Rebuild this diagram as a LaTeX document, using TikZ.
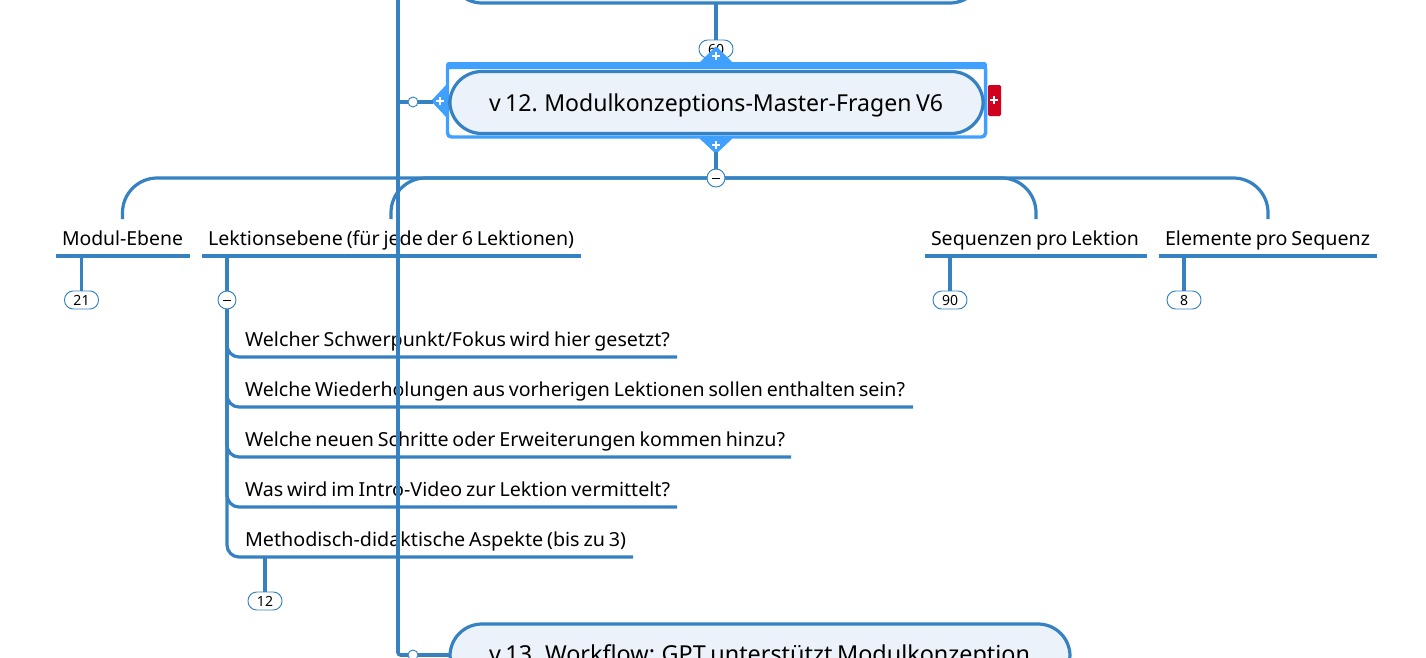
\documentclass[tikz,border=0pt]{standalone}
\usepackage{fontspec}
\usepackage{graphicx}
\setmainfont{Noto Sans}[WordSpace=0.75]
\usetikzlibrary{shapes.geometric}
\definecolor{linec}{HTML}{3581C1}
\definecolor{fillc}{HTML}{EBF2FA}
\definecolor{selc}{HTML}{3FA0FF}
\definecolor{redc}{HTML}{D0021E}
\newcommand{\fitw}[2]{\resizebox{#1}{\height}{#2}}
\tikzset{
  x=0.75pt,y=-0.75pt,
  every node/.style={inner sep=0pt,outer sep=0pt},
  conn/.style={draw=linec,line width=2.4pt},
  thick line/.style={draw=linec,line width=3pt},
  trunk/.style={draw=linec,line width=2.7pt},
  topicbox/.style={draw=linec,line width=2.4pt,fill=fillc,rounded corners=24pt,minimum height=46.5pt},
  topictext/.style={anchor=base west,font=\fontsize{17.5}{20}\selectfont,text=black},
  sub/.style={anchor=base west,font=\fontsize{14.5}{17}\selectfont,text=black},
  badge/.style={draw=linec,line width=0.7pt,fill=white,rounded corners=6.6pt,minimum width=25.5pt,minimum height=13.5pt,font=\fontsize{10.5}{12}\selectfont},
  toggle/.style={circle,draw=linec,line width=0.7pt,fill=white,minimum size=13.5pt},
  dot/.style={circle,draw=linec,line width=0.7pt,fill=white,minimum size=7.5pt},
  plusmark/.style={draw=white,line width=2.1pt},
}
\begin{document}
\begin{tikzpicture}
\useasboundingbox (0,0) rectangle (1426,657);
\clip (0,0) rectangle (1426,657);
% topics
\node[topicbox,minimum width=399pt] (prev) at (716,-28) {};
\draw[draw=selc,line width=2.6pt,rounded corners=3pt] (447.5,65) rectangle (985.5,137);
\fill[selc,rounded corners=2pt] (446,62) rectangle (987,69);
\node[topicbox,minimum width=400pt] (cur) at (716.5,102.5) {};
\node[topicbox,minimum width=465pt] (next) at (760,655) {};
\path (489,111.5) node[topictext] (curtext) {\fitw{340.5pt}{v 12. Modulkonzeptions-Master-Fragen V6}};
\path (489,662.5) node[topictext] (nexttext) {\fitw{405.75pt}{v 13. Workflow: GPT unterstützt Modulkonzeption}};
% subtopic labels
\path (62,245) node[sub] (modul) {\fitw{90.75pt}{Modul-Ebene}};
\path (208,245) node[sub] (lekt) {\fitw{274.5pt}{Lektionsebene (für jede der 6 Lektionen)}};
\path (931,245) node[sub] (seq) {\fitw{156pt}{Sequenzen pro Lektion}};
\path (1165,245) node[sub] (elem) {\fitw{153.75pt}{Elemente pro Sequenz}};
\path (245,346) node[sub] (q1) {\fitw{318.75pt}{Welcher Schwerpunkt/Fokus wird hier gesetzt?}};
\path (245,396) node[sub] (q2) {\fitw{495pt}{Welche Wiederholungen aus vorherigen Lektionen sollen enthalten sein?}};
\path (245,446) node[sub] (q3) {\fitw{405pt}{Welche neuen Schritte oder Erweiterungen kommen hinzu?}};
\path (245,496) node[sub] (q4) {\fitw{318.75pt}{Was wird im Intro-Video zur Lektion vermittelt?}};
\path (245,546) node[sub] (q5) {\fitw{285.75pt}{Methodisch-didaktische Aspekte (bis zu 3)}};
% badges and toggles
\node[badge] (b60) at (716,49) {60};
\node[badge] (b21) at (81.5,300) {21};
\node[badge] (b90) at (950,300) {90};
\node[badge] (b8) at (1184,300) {8};
\node[badge] (b12) at (265,601) {12};
\node[toggle] (tm) at (716,178) {\rule{6pt}{0.75pt}};
\node[toggle] (tl) at (227,300) {\rule{6pt}{0.75pt}};
\node[dot] (dcur) at (413,102) {};
\node[dot] (dnext) at (413,655) {};
% selection handles
\fill[selc,rounded corners=1pt] (699,63) -- (716,46) -- (733,63) -- cycle;
\fill[selc,rounded corners=1pt] (699,138) -- (716,154) -- (733,138) -- cycle;
\fill[selc,rounded corners=1pt] (447,84) -- (431,101) -- (447,118) -- cycle;
\fill[redc,rounded corners=1pt] (988,85) rectangle (1001,116);
% anchors
\coordinate (modL) at (56,256); \coordinate (modR) at (190,256);
\coordinate (lekL) at (202,256); \coordinate (lekR) at (581,256);
\coordinate (seqL) at (925,256); \coordinate (seqR) at (1147,256);
\coordinate (eleL) at (1159,256); \coordinate (eleR) at (1377,256);
\coordinate (s21) at (81.5,256); \coordinate (stl) at (227,256);
\coordinate (s90) at (950,256); \coordinate (s8) at (1184,256);
\coordinate (k1) at (677,357); \coordinate (k2) at (913,407);
\coordinate (k3) at (791,457); \coordinate (k4) at (677,507);
\coordinate (k5) at (633,557); \coordinate (s12) at (265,557);
\coordinate (bl1) at (122.5,219); \coordinate (bl2) at (391,219);
\coordinate (bl3) at (1036,219); \coordinate (bl4) at (1268,219);
\coordinate (trTop) at (398,-5); \coordinate (trCur) at (398,102); \coordinate (trNext) at (398,655);
\coordinate (hCur) at (433,102); \coordinate (hBot) at (716,152);
% connectors
\draw[conn] (prev.south) -- (b60.north);
\draw[conn] (hBot) -- (tm.north);
\draw[conn,rounded corners=26pt] (tm.west) -| (bl1);
\draw[conn,rounded corners=26pt] (tm.west) -| (bl2);
\draw[conn,rounded corners=26pt] (tm.east) -| (bl3);
\draw[conn,rounded corners=26pt] (tm.east) -| (bl4);
\draw[thick line] (modL) -- (modR);
\draw[thick line] (lekL) -- (lekR);
\draw[thick line] (seqL) -- (seqR);
\draw[thick line] (eleL) -- (eleR);
\draw[conn] (s21) -- (b21.north);
\draw[conn] (s90) -- (b90.north);
\draw[conn] (s8) -- (b8.north);
\draw[conn] (stl) -- (tl.north);
\draw[conn,rounded corners=9pt] (tl.south) |- (k1);
\draw[conn,rounded corners=9pt] (tl.south) |- (k2);
\draw[conn,rounded corners=9pt] (tl.south) |- (k3);
\draw[conn,rounded corners=9pt] (tl.south) |- (k4);
\draw[conn,rounded corners=9pt] (tl.south) |- (k5);
\draw[conn] (s12) -- (b12.north);
\draw[conn] (trCur) -- (dcur.west);
\draw[conn] (dcur.east) -- (hCur);
\draw[conn] (dnext.east) -- (next.west |- dnext);
\draw[trunk,rounded corners=2pt] (trTop) -- (trNext) -- (dnext.west);
% plus marks
\draw[plusmark] (712,56) -- (720,56) (716,52) -- (716,60);
\draw[plusmark] (712,145) -- (720,145) (716,141) -- (716,149);
\draw[plusmark] (436,101) -- (444,101) (440,97) -- (440,105);
\draw[plusmark] (990,100) -- (998,100) (994,96) -- (994,104);
\end{tikzpicture}
\end{document}
